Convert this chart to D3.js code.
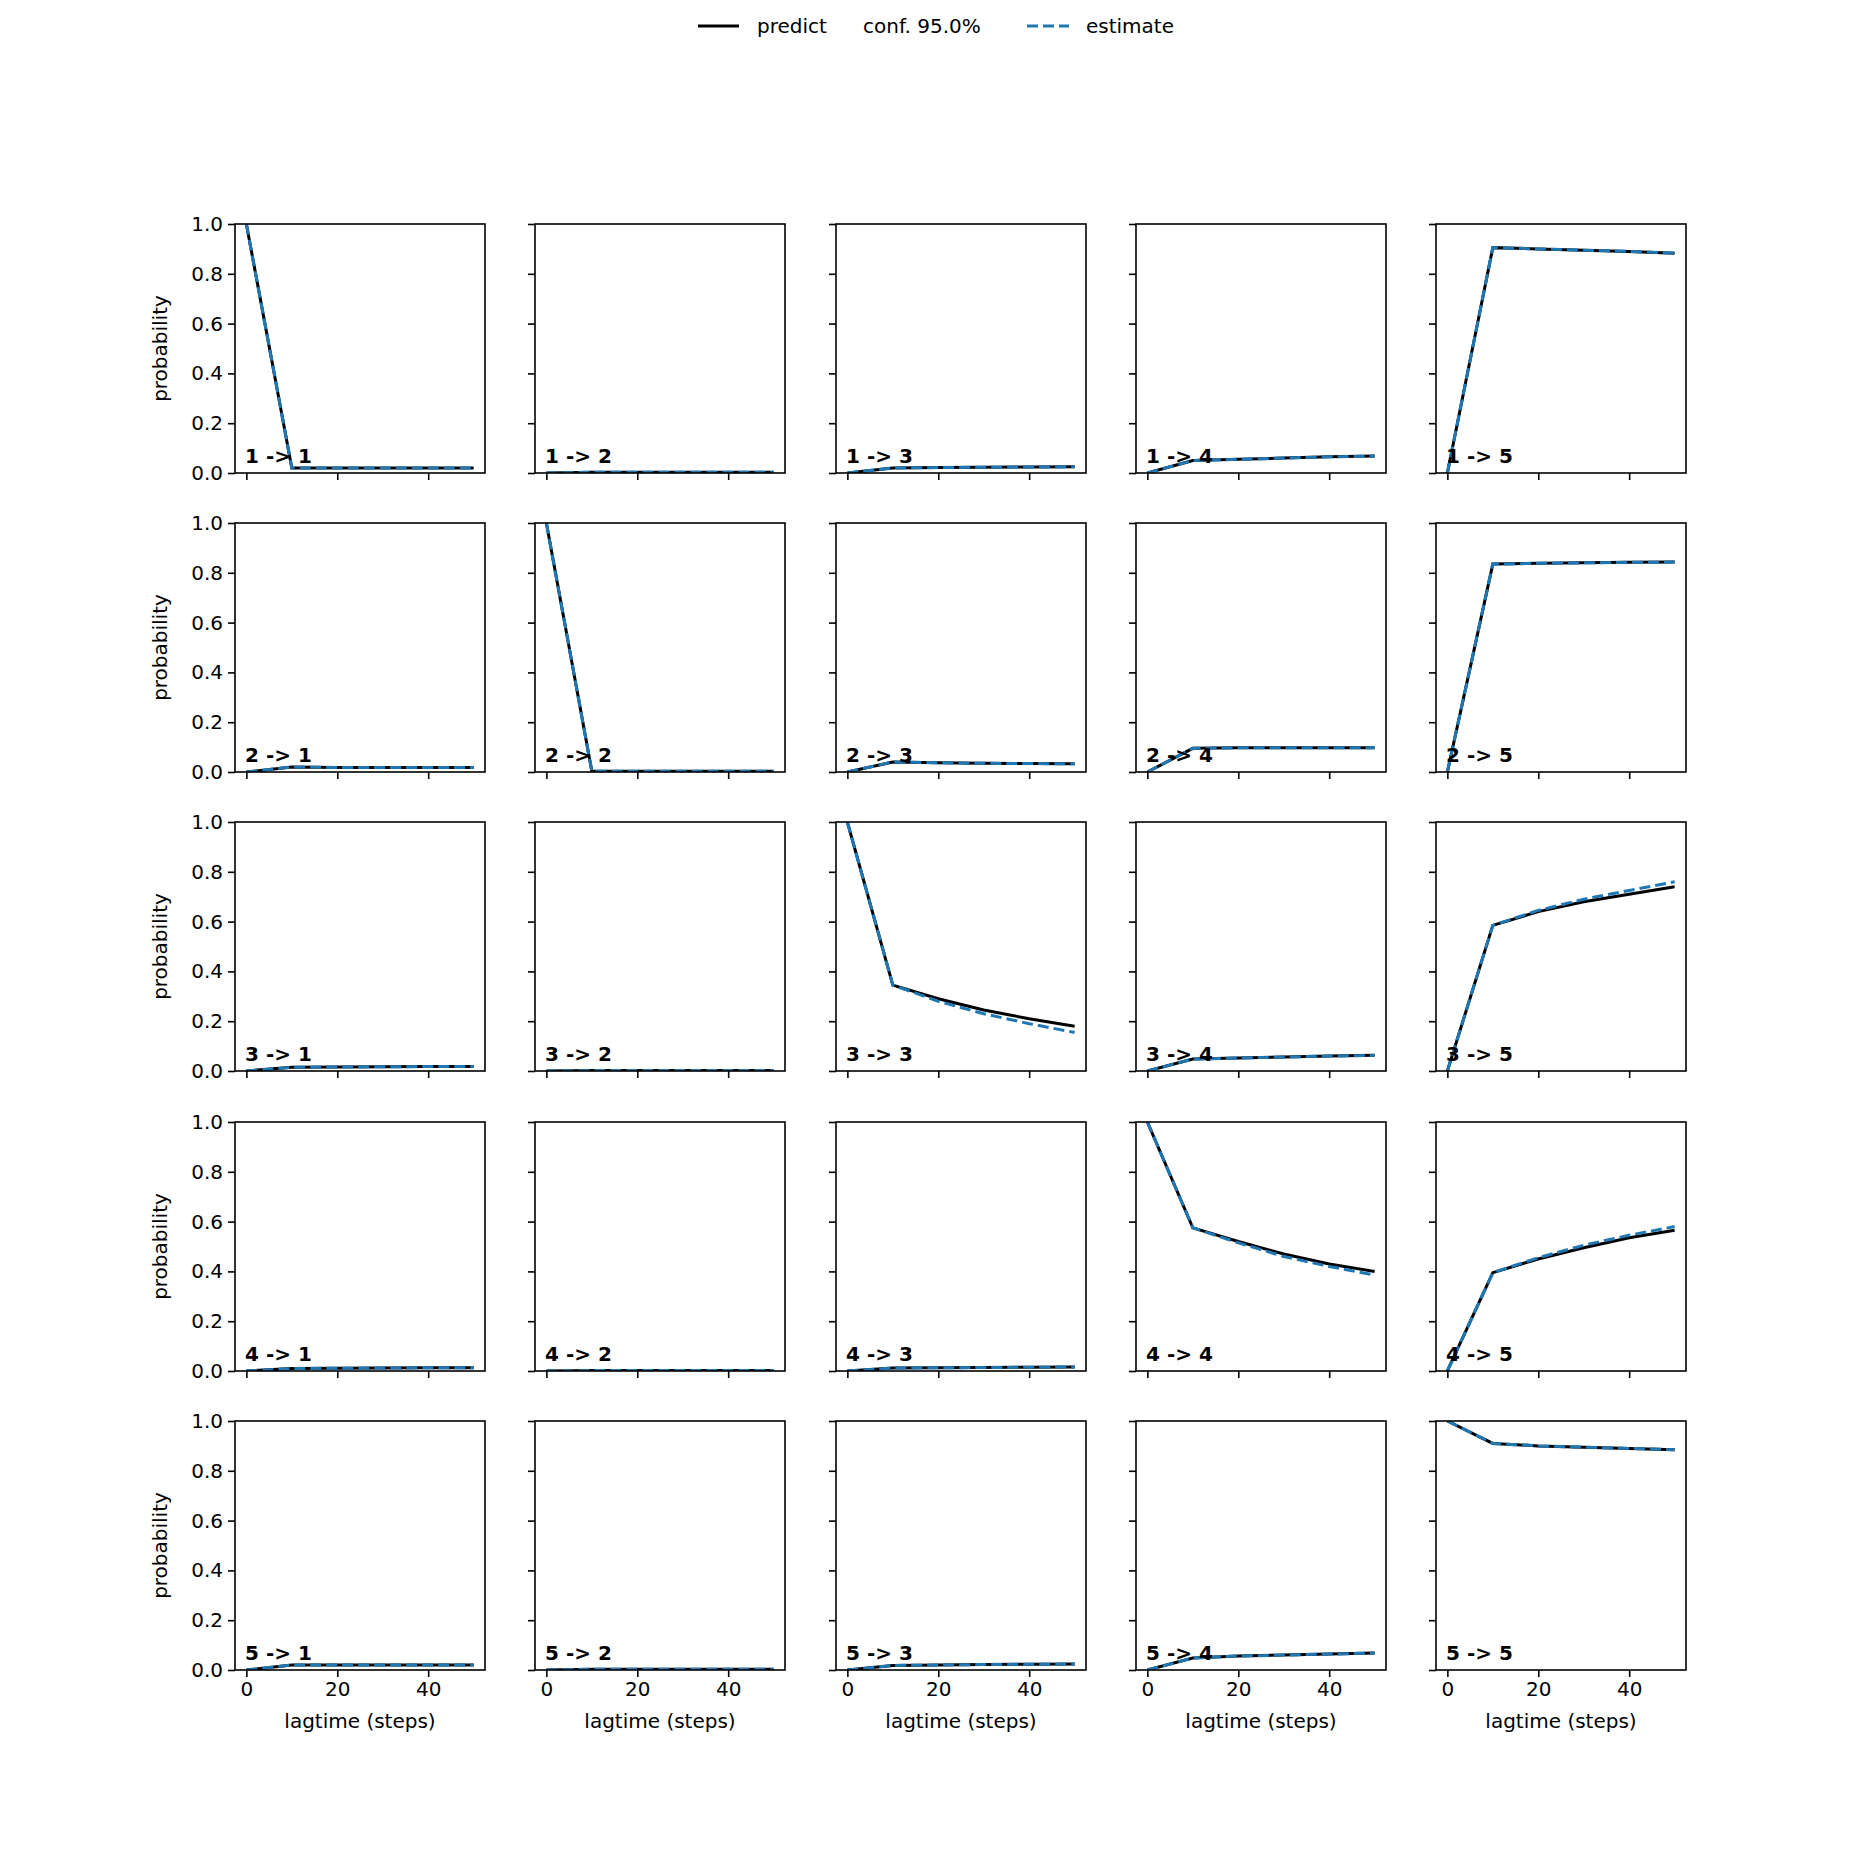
<!DOCTYPE html>
<html><head><meta charset="utf-8">
<script src="https://cdn.jsdelivr.net/npm/d3@7"></script>
<style>body{margin:0;background:#fff}text{font-family:"DejaVu Sans",sans-serif}</style>
</head><body><div id="chart"></div>
<script>
// lag times and states
var lagtimes = [0, 10, 20, 30, 40, 50];
var states = [1, 2, 3, 4, 5];
var yTicks = [0, 0.2, 0.4, 0.6, 0.8, 1.0];
var xTicks = [0, 20, 40];

// predicted transition probabilities, predict[i][j] = i -> j
var predict = [
  [[1,0.02,0.02,0.02,0.02,0.02],[0,0.003,0.003,0.003,0.003,0.003],[0,0.02,0.022,0.023,0.024,0.025],[0,0.05,0.055,0.06,0.065,0.068],[0,0.905,0.9,0.895,0.89,0.883]],
  [[0,0.02,0.018,0.018,0.018,0.018],[1,0.003,0.003,0.003,0.003,0.003],[0,0.04,0.037,0.035,0.034,0.033],[0,0.095,0.097,0.097,0.097,0.097],[0,0.835,0.838,0.84,0.842,0.843]],
  [[0,0.015,0.016,0.017,0.018,0.018],[0,0.002,0.002,0.002,0.002,0.002],[1,0.345,0.29,0.245,0.21,0.18],[0,0.048,0.052,0.056,0.06,0.063],[0,0.585,0.64,0.68,0.71,0.74]],
  [[0,0.01,0.011,0.012,0.013,0.013],[0,0.002,0.002,0.002,0.002,0.002],[0,0.012,0.013,0.014,0.015,0.016],[1,0.575,0.52,0.47,0.43,0.4],[0,0.395,0.45,0.495,0.535,0.565]],
  [[0,0.02,0.02,0.02,0.02,0.02],[0,0.003,0.003,0.003,0.003,0.003],[0,0.018,0.02,0.022,0.023,0.024],[0,0.048,0.056,0.06,0.064,0.068],[1,0.91,0.9,0.895,0.89,0.885]]
];
// estimated probabilities
var estimate = [
  [[1,0.02,0.02,0.02,0.02,0.02],[0,0.003,0.003,0.003,0.003,0.003],[0,0.02,0.022,0.023,0.024,0.025],[0,0.05,0.055,0.06,0.065,0.068],[0,0.905,0.9,0.895,0.89,0.883]],
  [[0,0.02,0.018,0.018,0.018,0.018],[1,0.003,0.003,0.003,0.003,0.003],[0,0.04,0.037,0.035,0.034,0.033],[0,0.095,0.097,0.097,0.097,0.097],[0,0.835,0.838,0.84,0.842,0.843]],
  [[0,0.015,0.016,0.017,0.018,0.018],[0,0.002,0.002,0.002,0.002,0.002],[1,0.345,0.28,0.23,0.19,0.155],[0,0.048,0.052,0.056,0.06,0.063],[0,0.585,0.645,0.69,0.725,0.76]],
  [[0,0.01,0.011,0.012,0.013,0.013],[0,0.002,0.002,0.002,0.002,0.002],[0,0.012,0.013,0.014,0.015,0.016],[1,0.575,0.515,0.46,0.42,0.385],[0,0.395,0.455,0.505,0.545,0.58]],
  [[0,0.02,0.02,0.02,0.02,0.02],[0,0.003,0.003,0.003,0.003,0.003],[0,0.018,0.02,0.022,0.023,0.024],[0,0.048,0.056,0.06,0.064,0.068],[1,0.91,0.9,0.895,0.89,0.885]]
];

var W = 1876, H = 1876;
var panelW = 250, panelH = 249;
var colX = [235, 535, 836, 1136, 1436];
var rowY = [224, 523, 822, 1122, 1421];
var fs = 20;

var svg = d3.select("#chart").append("svg").attr("width", W).attr("height", H);

var x = d3.scaleLinear().domain([-2.5, 52.5]).range([0, panelW]);
var y = d3.scaleLinear().domain([0, 1]).range([panelH, 0]);
var line = d3.line().x((d, k) => x(lagtimes[k])).y(d => y(d));

states.forEach(function(si, i) {
  states.forEach(function(sj, j) {
    var g = svg.append("g").attr("transform", "translate(" + colX[j] + "," + rowY[i] + ")");
    g.append("clipPath").attr("id", "c" + i + j)
      .append("rect").attr("width", panelW).attr("height", panelH);

    var plot = g.append("g").attr("clip-path", "url(#c" + i + j + ")");
    plot.append("path").datum(predict[i][j]).attr("d", line)
      .attr("fill", "none").attr("stroke", "#000").attr("stroke-width", 3);
    plot.append("path").datum(estimate[i][j]).attr("d", line)
      .attr("fill", "none").attr("stroke", "#1f77b4").attr("stroke-width", 3)
      .attr("stroke-dasharray", "11,5");

    g.append("text").attr("x", 10).attr("y", panelH - 10)
      .attr("font-size", fs).attr("font-weight", "bold").text(si + " -> " + sj);

    // axes
    var ya = d3.axisLeft(y).tickValues(yTicks).tickSize(7).tickPadding(5)
      .tickFormat(j == 0 ? d3.format(".1f") : "");
    var xa = d3.axisBottom(x).tickValues(xTicks).tickSize(7).tickPadding(5)
      .tickFormat(i == 4 ? d3.format("d") : "");
    var yg = g.append("g").call(ya);
    var xg = g.append("g").attr("transform", "translate(0," + panelH + ")").call(xa);
    [yg, xg].forEach(function(a) {
      a.select(".domain").remove();
      a.selectAll("line").attr("stroke-width", 1.6);
      a.selectAll("text").attr("font-size", fs).attr("font-family", "DejaVu Sans");
    });
    g.append("rect").attr("width", panelW).attr("height", panelH)
      .attr("fill", "none").attr("stroke", "#000").attr("stroke-width", 1.6);

    if (j == 0) {
      g.append("text").attr("transform", "translate(-68," + panelH / 2 + ") rotate(-90)")
        .attr("text-anchor", "middle").attr("font-size", fs).text("probability");
    }
    if (i == 4) {
      g.append("text").attr("x", panelW / 2).attr("y", panelH + 58)
        .attr("text-anchor", "middle").attr("font-size", fs).text("lagtime (steps)");
    }
  });
});

// legend
var lg = svg.append("g");
lg.append("line").attr("x1", 698).attr("x2", 739).attr("y1", 26).attr("y2", 26)
  .attr("stroke", "#000").attr("stroke-width", 3);
lg.append("text").attr("x", 757).attr("y", 33).attr("font-size", fs).text("predict");
lg.append("text").attr("x", 863).attr("y", 33).attr("font-size", fs).text("conf. 95.0%");
lg.append("line").attr("x1", 1027).attr("x2", 1069).attr("y1", 26).attr("y2", 26)
  .attr("stroke", "#1f77b4").attr("stroke-width", 3).attr("stroke-dasharray", "11,5");
lg.append("text").attr("x", 1086).attr("y", 33).attr("font-size", fs).text("estimate");
</script>
</body></html>
